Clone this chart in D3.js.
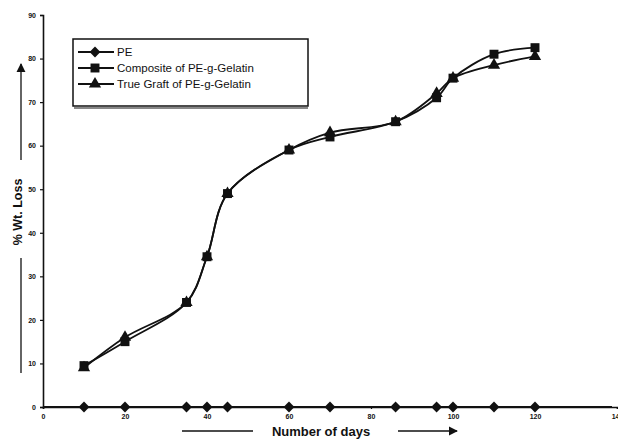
<!DOCTYPE html>
<html>
<head>
	<title>wt-loss</title>
	<meta charset="utf-8">
	<style type="text/css">
		body { margin: 0; background: #fff; }
		text { font-family: "Liberation Sans", Arial, sans-serif; fill: #111; }
	</style>
</head>
<body>

<script type="text/javascript" src="https://cdn.jsdelivr.net/npm/d3@7"></script>
<script type="text/javascript">
	/*=========DATA=========*/
	var days = [10, 20, 35, 40, 45, 60, 70, 86, 96, 100, 110, 120];
	var pe = [0, 0, 0, 0, 0, 0, 0, 0, 0, 0, 0, 0];
	var composite = [9.5, 15, 24, 34.5, 49, 59, 62, 65.5, 71, 75.5, 81, 82.5];
	var graft = [9, 16, 24, 34.5, 49, 59, 63, 65.5, 72, 75.5, 78.5, 80.5];
	var seriesNames = ["PE", "Composite of PE-g-Gelatin", "True Graft of PE-g-Gelatin"];
	var xTicks = [0, 20, 40, 60, 80, 100, 120, 140];
	var yTicks = [0, 10, 20, 30, 40, 50, 60, 70, 80, 90];

	/*=====SIZE SVG======*/
	var w = 618;
	var h = 439;
	var svg = d3.select("body").append("svg").attr("width", w).attr("height", h);

	var x = d3.scaleLinear().domain([0, 140]).range([43, 617]);
	var y = d3.scaleLinear().domain([0, 90]).range([407, 15]);

	/*=========AXES============*/
	var yAxis = svg.append("g").attr("transform", "translate(43,0)")
		.call(d3.axisLeft(y).tickValues(yTicks).tickSize(3).tickPadding(4));
	var xAxis = svg.append("g").attr("transform", "translate(0,407)")
		.call(d3.axisBottom(x).tickValues(xTicks).tickSize(2).tickPadding(5));
	[xAxis, yAxis].forEach(function(a){
		a.select(".domain").attr("stroke", "#111").attr("stroke-width", 1.6);
		a.selectAll(".tick line").attr("stroke", "#111").attr("stroke-width", 1.2);
		a.selectAll(".tick text").style("font-size", "7px").style("font-weight", "bold").attr("fill", "#333");
	});

	/*=========SERIES============*/
	var symbols = [d3.symbolDiamond2, d3.symbolSquare, d3.symbolTriangle];
	var sizes = [75, 80, 65];
	var allSeries = [pe, composite, graft];
	var line = d3.line()
		.x(function(d, i){ return x(days[i]); })
		.y(function(d){ return y(d); })
		.curve(d3.curveCatmullRom);

	allSeries.forEach(function(vals, s){
		svg.append("path")
			.attr("d", line(vals))
			.attr("fill", "none")
			.attr("stroke", "#111")
			.attr("stroke-width", 1.8);
		svg.selectAll("path.m" + s)
			.data(vals)
			.enter()
			.append("path")
			.attr("class", "m" + s)
			.attr("transform", function(d, i){ return "translate(" + x(days[i]) + "," + y(d) + ")"; })
			.attr("d", d3.symbol().type(symbols[s]).size(sizes[s]))
			.attr("fill", "#111");
	});
	// PE baseline runs across the whole axis
	svg.append("line").attr("x1", 43).attr("x2", 612).attr("y1", y(0)).attr("y2", y(0))
		.attr("stroke", "#111").attr("stroke-width", 1.8);

	/*=========LEGEND============*/
	var lg = svg.append("g");
	lg.append("rect").attr("x", 73).attr("y", 39).attr("width", 235).attr("height", 67)
		.attr("fill", "#fff").attr("stroke", "#111").attr("stroke-width", 1.5);
	lg.append("line").attr("x1", 74).attr("x2", 308).attr("y1", 108).attr("y2", 108)
		.attr("stroke", "#111").attr("stroke-width", 1);
	seriesNames.forEach(function(name, s){
		var yy = 52 + s * 16;
		lg.append("line").attr("x1", 78).attr("x2", 114).attr("y1", yy).attr("y2", yy)
			.attr("stroke", "#111").attr("stroke-width", 1.8);
		lg.append("path").attr("transform", "translate(95," + yy + ")")
			.attr("d", d3.symbol().type(symbols[s]).size(sizes[s])).attr("fill", "#111");
		lg.append("text").attr("x", 117).attr("y", yy + 4).style("font-size", "11.5px").text(name);
	});

	/*=========AXIS TITLES============*/
	svg.append("defs").append("marker").attr("id", "ah")
		.attr("viewBox", "0 0 10 10").attr("refX", 9).attr("refY", 5)
		.attr("markerWidth", 7).attr("markerHeight", 7).attr("orient", "auto")
		.append("path").attr("d", "M0,0L10,5L0,10Z").attr("fill", "#111");

	svg.append("text")
		.attr("transform", "translate(22,212) rotate(-90)")
		.attr("text-anchor", "middle")
		.style("font-size", "12.5px").style("font-weight", "bold")
		.text("% Wt. Loss");
	svg.append("line").attr("x1", 21).attr("x2", 21).attr("y1", 160).attr("y2", 64)
		.attr("stroke", "#111").attr("stroke-width", 1.3).attr("marker-end", "url(#ah)");
	svg.append("line").attr("x1", 21).attr("x2", 21).attr("y1", 258).attr("y2", 373)
		.attr("stroke", "#111").attr("stroke-width", 1.3);

	svg.append("text")
		.attr("x", 321).attr("y", 436)
		.attr("text-anchor", "middle")
		.style("font-size", "13px").style("font-weight", "bold")
		.text("Number of days");
	svg.append("line").attr("x1", 182).attr("x2", 253).attr("y1", 431).attr("y2", 431)
		.attr("stroke", "#111").attr("stroke-width", 1.3);
	svg.append("line").attr("x1", 398).attr("x2", 457).attr("y1", 431).attr("y2", 431)
		.attr("stroke", "#111").attr("stroke-width", 1.3).attr("marker-end", "url(#ah)");
</script>
</body>
</html>
